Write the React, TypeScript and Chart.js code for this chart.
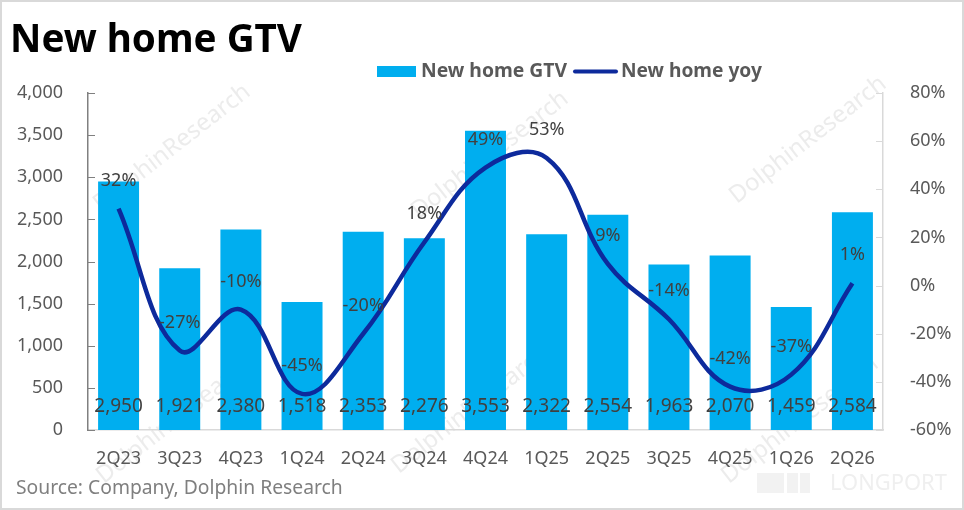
import React, { useEffect, useRef } from "react";
import { Chart, registerables } from "chart.js";

Chart.register(...registerables);

const categories = ["2Q23", "3Q23", "4Q23", "1Q24", "2Q24", "3Q24", "4Q24", "1Q25", "2Q25", "3Q25", "4Q25", "1Q26", "2Q26"];
const gtvValues = [2950, 1921, 2380, 1518, 2353, 2276, 3553, 2322, 2554, 1963, 2070, 1459, 2584];
const yoyValues = [32, -27, -10, -45, -20, 18, 49, 53, 9, -14, -42, -37, 1];
const leftTicks = { min: 0, max: 4000, step: 500 };
const rightTicks = { min: -60, max: 80, step: 20 };

const titleText = "New home GTV";
const gtvLabel = "New home GTV";
const yoyLabel = "New home yoy";
const sourceText = "Source: Company, Dolphin Research";

const FONT = "'Noto Sans', 'Open Sans', sans-serif";
const BAR_COLOR = "#00AEEF";
const LINE_COLOR = "#0D2A9C";

function fitText(ctx: CanvasRenderingContext2D, text: string, weight: string, width: number) {
  ctx.font = `${weight} 100px ${FONT}`;
  const w = ctx.measureText(text).width;
  const size = (100 * width) / w;
  ctx.font = `${weight} ${size}px ${FONT}`;
}

const fmt = (v: number) => v.toLocaleString("en-US");

const decorPlugin = {
  id: "decor",
  beforeDraw(chart: any) {
    const ctx = chart.ctx as CanvasRenderingContext2D;
    ctx.save();
    ctx.fillStyle = "#ffffff";
    ctx.fillRect(0, 0, chart.width, chart.height);
    // watermarks
    const marks = [
      [172, 148], [490, 155], [808, 140],
      [175, 420], [470, 410], [800, 420],
    ];
    ctx.fillStyle = "rgba(200,200,200,0.35)";
    ctx.font = `24px ${FONT}`;
    ctx.textAlign = "center";
    ctx.textBaseline = "middle";
    for (const [x, y] of marks) {
      ctx.save();
      ctx.translate(x, y);
      ctx.rotate(-38 * Math.PI / 180);
      ctx.fillText("DolphinResearch", 0, 0);
      ctx.restore();
    }
    ctx.restore();
  },
  afterDatasetsDraw(chart: any) {
    const ctx = chart.ctx as CanvasRenderingContext2D;
    const yScale = chart.scales.y;
    const base = yScale.getPixelForValue(0);
    ctx.save();
    ctx.font = `19px ${FONT}`;
    ctx.fillStyle = "#404040";
    ctx.textAlign = "center";
    ctx.textBaseline = "middle";
    const barMeta = chart.getDatasetMeta(1);
    barMeta.data.forEach((el: any, i: number) => {
      ctx.fillText(fmt(gtvValues[i]), el.x, base - 23);
    });
    ctx.font = `18px ${FONT}`;
    const lineMeta = chart.getDatasetMeta(0);
    lineMeta.data.forEach((el: any, i: number) => {
      ctx.fillText(`${yoyValues[i]}%`, el.x, el.y - 28);
    });
    ctx.restore();
  },
  afterDraw(chart: any) {
    const ctx = chart.ctx as CanvasRenderingContext2D;
    const area = chart.chartArea;
    ctx.save();
    // inward tick marks
    const yL = chart.scales.y;
    const yR = chart.scales.y1;
    ctx.lineWidth = 1;
    ctx.strokeStyle = "#808080";
    for (let v = leftTicks.min; v <= leftTicks.max; v += leftTicks.step) {
      const y = Math.round(yL.getPixelForValue(v)) + 0.5;
      ctx.beginPath();
      ctx.moveTo(area.left, y);
      ctx.lineTo(area.left + 7, y);
      ctx.stroke();
    }
    ctx.strokeStyle = "#d9d9d9";
    for (let v = rightTicks.min; v <= rightTicks.max; v += rightTicks.step) {
      const y = Math.round(yR.getPixelForValue(v)) + 0.5;
      ctx.beginPath();
      ctx.moveTo(area.right - 7, y);
      ctx.lineTo(area.right, y);
      ctx.stroke();
    }

    // title
    ctx.fillStyle = "#000000";
    ctx.textAlign = "left";
    ctx.textBaseline = "alphabetic";
    fitText(ctx, titleText, "bold", 292);
    ctx.fillText(titleText, 10, 52);

    // legend
    ctx.fillStyle = BAR_COLOR;
    ctx.fillRect(377, 66, 39, 11);
    ctx.fillStyle = "#595959";
    ctx.textBaseline = "middle";
    fitText(ctx, gtvLabel, "bold", 146);
    ctx.fillText(gtvLabel, 421, 72);
    ctx.strokeStyle = LINE_COLOR;
    ctx.lineWidth = 4;
    ctx.lineCap = "round";
    ctx.beginPath();
    ctx.moveTo(575, 71.5);
    ctx.lineTo(616, 71.5);
    ctx.stroke();
    fitText(ctx, yoyLabel, "bold", 141);
    ctx.fillText(yoyLabel, 621, 72);

    // source
    ctx.fillStyle = "#7f7f7f";
    fitText(ctx, sourceText, "normal", 327);
    ctx.fillText(sourceText, 16, 489);

    // longport logo (faint)
    ctx.fillStyle = "#f2f2f2";
    ctx.fillRect(757, 473, 27, 20);
    ctx.fillRect(787, 473, 11, 20);
    ctx.fillRect(800, 473, 10, 20);
    ctx.fillStyle = "#efefef";
    fitText(ctx, "LONGPORT", "normal", 117);
    ctx.fillText("LONGPORT", 830, 484);

    // frame
    ctx.strokeStyle = "#d9d9d9";
    ctx.lineWidth = 2;
    ctx.strokeRect(1, 1, chart.width - 2, chart.height - 2);
    ctx.restore();
  },
};

export default function App() {
  const canvasRef = useRef<HTMLCanvasElement | null>(null);

  useEffect(() => {
    const canvas = canvasRef.current;
    if (!canvas) return;
    const chart = new Chart(canvas, {
      type: "bar",
      data: {
        labels: categories,
        datasets: [
          {
            type: "line",
            label: yoyLabel,
            data: yoyValues,
            yAxisID: "y1",
            borderColor: LINE_COLOR,
            backgroundColor: LINE_COLOR,
            borderWidth: 4.5,
            pointRadius: 0,
            tension: 0.4,
            order: 0,
          } as any,
          {
            type: "bar",
            label: gtvLabel,
            data: gtvValues,
            yAxisID: "y",
            backgroundColor: BAR_COLOR,
            categoryPercentage: 1,
            barPercentage: 0.67,
            order: 1,
          } as any,
        ],
      },
      options: {
        animation: false,
        responsive: false,
        devicePixelRatio: 1,
        layout: { padding: { top: 93, left: 0, right: 0, bottom: 0 } },
        plugins: {
          legend: { display: false },
          title: { display: false },
          tooltip: { enabled: false },
        },
        scales: {
          x: {
            grid: { display: false },
            border: { display: true, color: "#d9d9d9", width: 1.5 },
            ticks: {
              color: "#595959",
              font: { family: FONT, size: 18 },
              padding: 10,
              maxRotation: 0,
              autoSkip: false,
            },
            afterFit: (s: any) => { s.height = 80; },
          },
          y: {
            position: "left",
            min: leftTicks.min,
            max: leftTicks.max,
            grid: { display: false },
            border: { display: true, color: "#808080", width: 1.5 },
            ticks: {
              stepSize: leftTicks.step,
              color: "#595959",
              font: { family: FONT, size: 18 },
              padding: 17,
              callback: (v: any) => fmt(Number(v)),
            },
            afterFit: (s: any) => { s.width = 88; },
          },
          y1: {
            position: "right",
            min: rightTicks.min,
            max: rightTicks.max,
            grid: { display: false, drawOnChartArea: false },
            border: { display: true, color: "#d9d9d9", width: 1.5 },
            ticks: {
              stepSize: rightTicks.step,
              color: "#595959",
              font: { family: FONT, size: 18 },
              padding: 19,
              callback: (v: any) => `${v}%`,
            },
            afterFit: (s: any) => { s.width = 81; },
          },
        },
      },
      plugins: [decorPlugin],
    });
    return () => chart.destroy();
  }, []);

  return (
    <div style={{ position: "absolute", left: 0, top: 0, width: 964, height: 510 }}>
      <canvas ref={canvasRef} width={964} height={510} />
    </div>
  );
}
